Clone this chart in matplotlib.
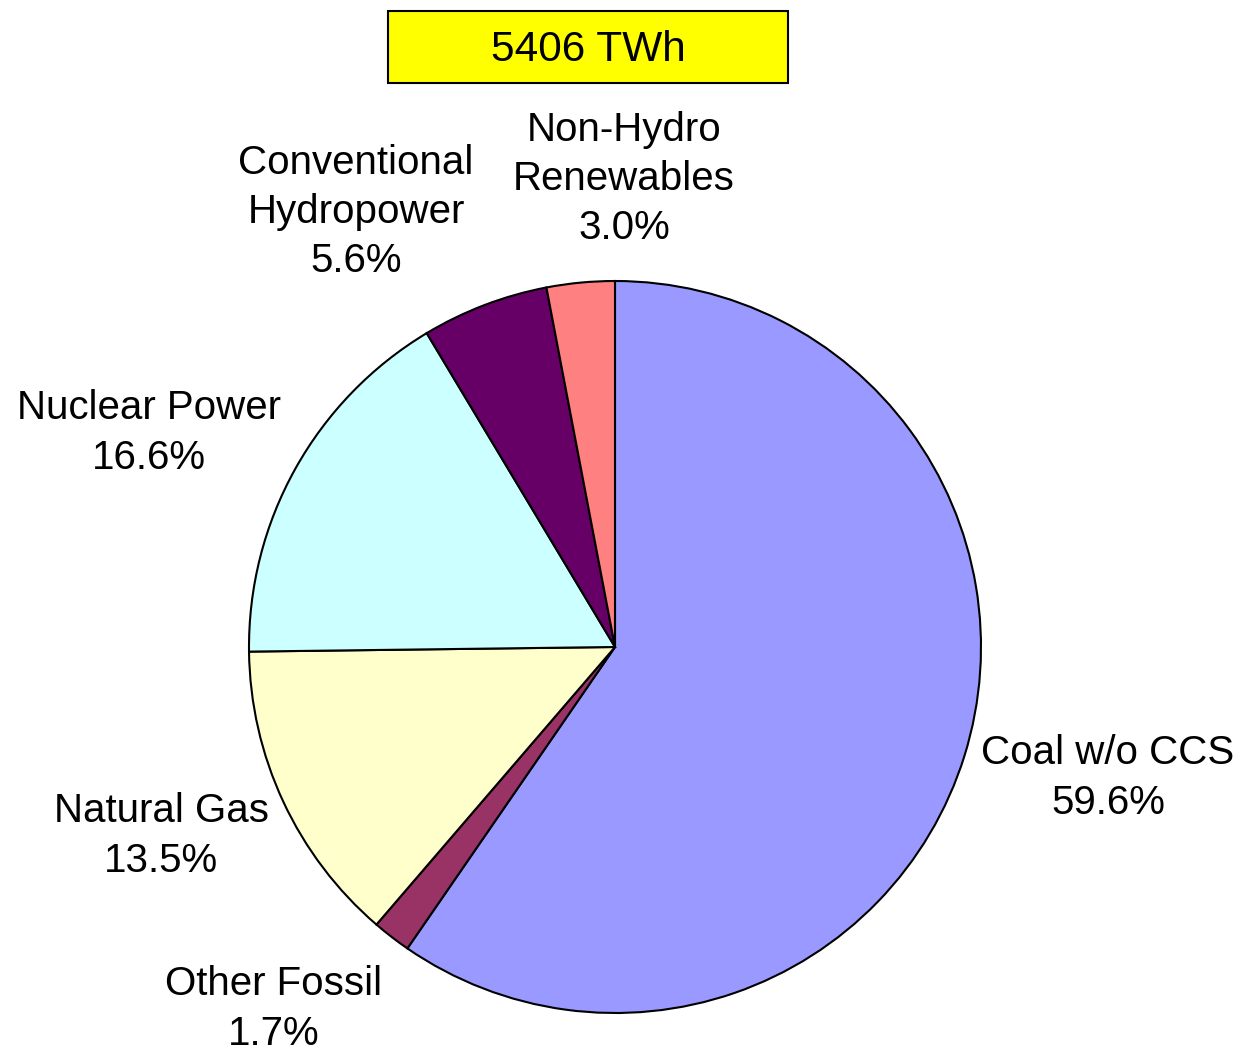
import matplotlib
matplotlib.use("Agg")
import matplotlib.pyplot as plt
from matplotlib.patches import Rectangle

plt.rcParams['font.family'] = ['Liberation Sans', 'DejaVu Sans']

categories = ["Coal w/o CCS", "Other Fossil", "Natural Gas", "Nuclear Power",
              "Conventional\nHydropower", "Non-Hydro\nRenewables"]
shares = [59.6, 1.7, 13.5, 16.6, 5.6, 3.0]
colors = ["#9999FF", "#993366", "#FFFFCC", "#CCFFFF", "#660066", "#FF8080"]
total_label = "5406 TWh"

W, H = 1240, 1049
fig = plt.figure(figsize=(W / 100, H / 100), dpi=100)
ax = fig.add_axes([0, 0, 1, 1])

cx, cy, r = 615, H - 647, 366
ax.pie(shares, colors=colors, startangle=90, counterclock=False,
       center=(cx, cy), radius=r, frame=True,
       wedgeprops=dict(edgecolor="black", linewidth=1.5))
ax.set_xlim(0, W)
ax.set_ylim(0, H)
ax.set_aspect("equal")
ax.axis("off")

label_pos = [(1108, 778), (274, 1009), (161, 836), (149, 433), (356, 212), (624, 179)]
fs = 29
for name, val, (lx, ly) in zip(categories, shares, label_pos):
    ax.text(lx, H - ly, f"{name}\n{val:.1f}%", ha="center", va="center",
            fontsize=fs, linespacing=1.38)

ax.add_patch(Rectangle((388, H - 83), 400, 72, facecolor="#FFFF00",
                       edgecolor="black", linewidth=1.5))
ax.text(588, H - 50, total_label, ha="center", va="center", fontsize=30.5)

fig.savefig("out.png", dpi=100)
